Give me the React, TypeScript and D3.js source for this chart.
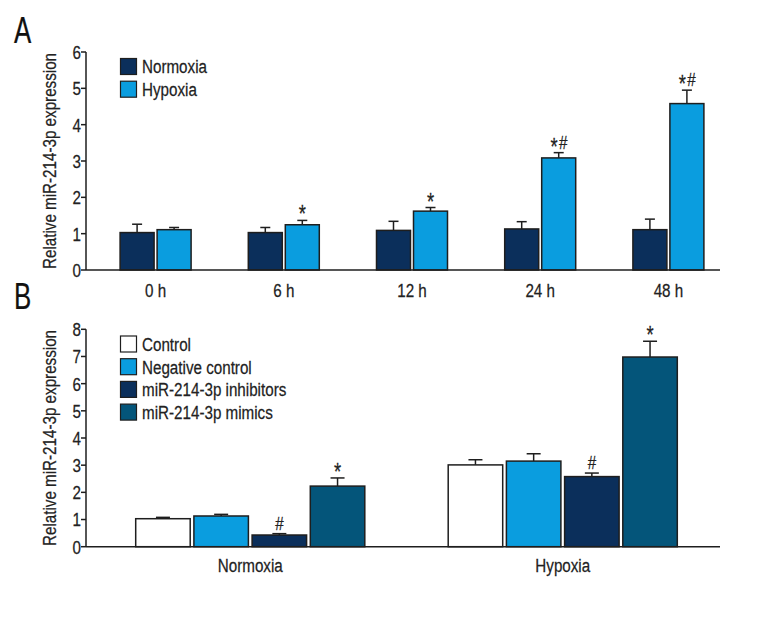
import React from 'react';
import * as d3 from 'd3';

// ---------- Panel A data ----------
const timeCats = ['0 h', '6 h', '12 h', '24 h', '48 h'];
const normoxiaA = [1.03, 1.03, 1.09, 1.13, 1.11];
const normoxiaAErr = [0.23, 0.14, 0.25, 0.2, 0.29];
const hypoxiaA = [1.11, 1.245, 1.62, 3.085, 4.58];
const hypoxiaAErr = [0.06, 0.12, 0.1, 0.145, 0.37];
const sigA = ['', '*', '*', '*#', '*#'];
const seriesA = ['Normoxia', 'Hypoxia'];
const ticksA = [0, 1, 2, 3, 4, 5, 6];

// ---------- Panel B data ----------
const groupsB = ['Normoxia', 'Hypoxia'];
const seriesB = ['Control', 'Negative control', 'miR-214-3p inhibitors', 'miR-214-3p mimics'];
const controlB = [1.03, 3.01];
const controlBErr = [0.05, 0.19];
const negCtrlB = [1.13, 3.15];
const negCtrlBErr = [0.06, 0.27];
const inhibB = [0.43, 2.58];
const inhibBErr = [0.05, 0.13];
const mimicsB = [2.23, 6.98];
const mimicsBErr = [0.3, 0.58];
const sigInhibB = ['#', '#'];
const sigMimicsB = ['*', '*'];
const ticksB = [0, 1, 2, 3, 4, 5, 6, 7, 8];

const FONT = "'Liberation Sans', Arial, sans-serif";
const NAVY = '#0b2f5b';
const LIGHT = '#0a9ddf';
const TEAL = '#04557a';
const STROKE = '#1e1e1e';
const SX = 0.8;

const colorsA = [NAVY, LIGHT];
const colorsB = ['#ffffff', LIGHT, NAVY, TEAL];

function T({ x, y, size = 19, anchor = 'start', rotate = 0, sx = SX, dy, children, fill = '#222' }: any) {
  return (
    <text
      transform={`translate(${x},${y}) rotate(${rotate}) scale(${sx},1)`}
      textAnchor={anchor}
      fontSize={size}
      fontFamily={FONT}
      fill={fill}
      stroke={fill}
      strokeWidth={0.25}
      dy={dy}
    >
      {children}
    </text>
  );
}

function YAxis({ y, x0, ticks, top, bottom }: any) {
  return (
    <g>
      <line x1={x0} x2={x0} y1={top} y2={bottom} stroke={STROKE} strokeWidth={1.5} />
      {ticks.map((t: number) => (
        <g key={t}>
          <line x1={x0 - 5} x2={x0} y1={y(t)} y2={y(t)} stroke={STROKE} strokeWidth={1.5} />
          <T x={x0 - 5} y={y(t)} dy="0.36em" anchor="end">{t}</T>
        </g>
      ))}
    </g>
  );
}

function Sig({ x, ye, sig }: any) {
  if (sig === '*') return <T x={x} y={ye + 2} anchor="middle" size={23}>*</T>;
  if (sig === '#') return <T x={x} y={ye - 4} anchor="middle" size={19}>#</T>;
  // '*#'
  return (
    <g>
      <T x={x - 4.5} y={ye + 2} anchor="middle" size={23}>*</T>
      <T x={x + 4.5} y={ye - 4} anchor="middle" size={19}>#</T>
    </g>
  );
}

function Bar({ x, w, y0, yv, ye, fill, capW, sig }: any) {
  return (
    <g>
      <line x1={x + w / 2} x2={x + w / 2} y1={yv} y2={ye} stroke={STROKE} strokeWidth={1.5} />
      <line x1={x + w / 2 - capW / 2} x2={x + w / 2 + capW / 2} y1={ye} y2={ye} stroke={STROKE} strokeWidth={1.5} />
      <rect x={x} y={yv} width={w} height={y0 - yv} fill={fill} stroke={STROKE} strokeWidth={1.5} />
      {sig ? <Sig x={x + w / 2} ye={ye} sig={sig} /> : null}
    </g>
  );
}

export default function App() {
  // Panel A scales
  const axisX0 = 86;
  const axisX1 = 720;
  const yA = d3.scaleLinear().domain([0, 6]).range([270, 52]);
  const xA = d3.scaleBand().domain(timeCats).range([91.5, 732.5]);
  const barWA = 34;
  const gapA = 3;

  // Panel B scales
  const yB = d3.scaleLinear().domain([0, 8]).range([546.7, 329.3]);
  const xB = d3.scaleBand().domain(groupsB).range([94, 719]);
  const barWB = 54.5;
  const gapB = 3.7;
  const valsB = [controlB, negCtrlB, inhibB, mimicsB];
  const errsB = [controlBErr, negCtrlBErr, inhibBErr, mimicsBErr];
  const sigsB = [['', ''], ['', ''], sigInhibB, sigMimicsB];

  const yLabel = 'Relative miR-214-3p expression';

  return (
    <svg width={760} height={620} style={{ position: 'absolute', left: 0, top: 0, background: '#fff' }}>
      {/* Panel A */}
      <T x={14} y={43} size={37} sx={0.7} fill="#111">A</T>
      <T x={56} y={(yA(0) + yA(6)) / 2} rotate={-90} anchor="middle">{yLabel}</T>
      <YAxis y={yA} x0={axisX0} ticks={ticksA} top={yA(6)} bottom={yA(0)} />
      {timeCats.map((c, i) => {
        const cx = (xA(c) as number) + xA.bandwidth() / 2;
        const xN = cx - gapA / 2 - barWA;
        const xH = cx + gapA / 2;
        return (
          <g key={c}>
            <Bar x={xN} w={barWA} y0={yA(0)} yv={yA(normoxiaA[i])} ye={yA(normoxiaA[i] + normoxiaAErr[i])} fill={NAVY} capW={10} />
            <Bar x={xH} w={barWA} y0={yA(0)} yv={yA(hypoxiaA[i])} ye={yA(hypoxiaA[i] + hypoxiaAErr[i])} fill={LIGHT} capW={10} sig={sigA[i]} />
            <T x={cx} y={297} anchor="middle">{c}</T>
          </g>
        );
      })}
      <line x1={axisX0} x2={axisX1} y1={yA(0)} y2={yA(0)} stroke={STROKE} strokeWidth={1.5} />
      {seriesA.map((s, i) => (
        <g key={s}>
          <rect x={120.5} y={58.5 + i * 22.7} width={16} height={16} fill={colorsA[i]} stroke={STROKE} strokeWidth={1.2} />
          <T x={142} y={66.5 + i * 22.7} dy="0.36em">{s}</T>
        </g>
      ))}

      {/* Panel B */}
      <T x={14} y={309} size={37} sx={0.7} fill="#111">B</T>
      <T x={56} y={(yB(0) + yB(8)) / 2} rotate={-90} anchor="middle">{yLabel}</T>
      <YAxis y={yB} x0={axisX0} ticks={ticksB} top={yB(8)} bottom={yB(0)} />
      {groupsB.map((g, gi) => {
        const cx = (xB(g) as number) + xB.bandwidth() / 2;
        const total = 4 * barWB + 3 * gapB;
        const start = cx - total / 2;
        return (
          <g key={g}>
            {valsB.map((vals, si) => (
              <Bar
                key={si}
                x={start + si * (barWB + gapB)}
                w={barWB}
                y0={yB(0)}
                yv={yB(vals[gi])}
                ye={yB(vals[gi] + errsB[si][gi])}
                fill={colorsB[si]}
                capW={14}
                sig={sigsB[si][gi]}
              />
            ))}
            <T x={cx} y={572} anchor="middle">{g}</T>
          </g>
        );
      })}
      <line x1={axisX0} x2={axisX1} y1={yB(0)} y2={yB(0)} stroke={STROKE} strokeWidth={1.5} />
      {seriesB.map((s, i) => (
        <g key={s}>
          <rect x={120.5} y={336 + i * 22.7} width={16} height={16} fill={colorsB[i]} stroke={STROKE} strokeWidth={1.2} />
          <T x={142} y={344 + i * 22.7} dy="0.36em">{s}</T>
        </g>
      ))}
    </svg>
  );
}
